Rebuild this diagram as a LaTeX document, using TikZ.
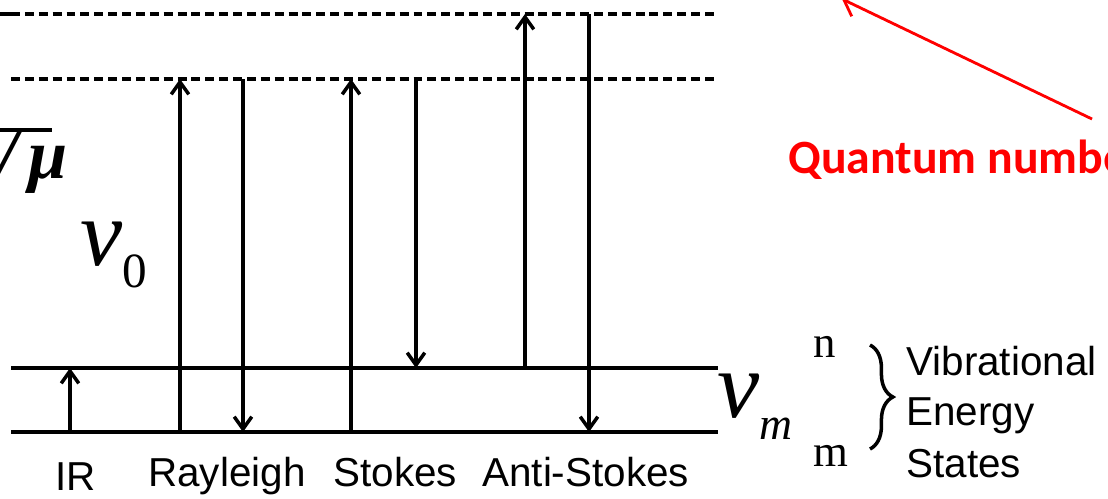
\documentclass[tikz,border=0pt]{standalone}
\usepackage{fontspec}
\setmainfont{Liberation Serif}
\newfontfamily\arial{Liberation Sans}
\newfontfamily\calibri{Carlito}
\usetikzlibrary{arrows.meta,decorations.pathreplacing}
\begin{document}
\begin{tikzpicture}[x=0.02cm,y=-0.02cm,
  lvl/.style={line width=2.1pt},
  virt/.style={line width=2.3pt,dash pattern=on 5.1pt off 2.8pt},
  trans/.style={line width=2pt,-{Straight Barb[length=7pt,width=10pt,line width=2pt]}},
  lab/.style={font=\arial\fontsize{23}{27}\selectfont,inner sep=0pt,anchor=base west},
  sym/.style={inner sep=0pt,anchor=base west},
  note/.style={red,line width=1.6pt,-{Straight Barb[length=8pt,width=13pt,line width=1.6pt]}}]
\useasboundingbox (0,0) rectangle (1108,498);
\clip (0,0) rectangle (1108,498);
\fill[white] (0,0) rectangle (1108,498);

% levels
\coordinate (frag) at (0,14);
\coordinate (v1L) at (11,14);  \coordinate (v1R) at (718,14);
\coordinate (v0L) at (11,79);  \coordinate (v0R) at (718,79);
\coordinate (nL) at (11,368);  \coordinate (nR) at (718,368);
\coordinate (mL) at (11,432);  \coordinate (mR) at (718,432);
\draw[lvl] (frag) -- (v1L);
\draw[virt] (v1L) -- (v1R);
\draw[virt] (v0L) -- (v0R);
\draw[lvl] (nL) -- (nR);
\draw[lvl] (mL) -- (mR);

% transition end points
\coordinate (irA) at (70,432);   \coordinate (irB) at (70,368);
\coordinate (raA) at (180,432);  \coordinate (raB) at (180,79);
\coordinate (rbA) at (243,79);   \coordinate (rbB) at (243,432);
\coordinate (saA) at (351,432);  \coordinate (saB) at (351,79);
\coordinate (sbA) at (416,79);   \coordinate (sbB) at (416,368);
\coordinate (aaA) at (525,368);  \coordinate (aaB) at (525,14);
\coordinate (abA) at (589,14);   \coordinate (abB) at (589,432);
\draw[trans] (irA) -- (irB);
\draw[trans] (raA) -- (raB);
\draw[trans] (rbA) -- (rbB);
\draw[trans] (saA) -- (saB);
\draw[trans] (sbA) -- (sbB);
\draw[trans] (aaA) -- (aaB);
\draw[trans] (abA) -- (abB);

% labels
\node[lab] (ir) at (55,490) {IR};
\node[lab] (ray) at (148,486) {Rayleigh};
\node[lab] (sto) at (333,486) {Stokes};
\node[lab] (ast) at (482,486) {Anti-Stokes};

% nu_0
\node[sym] (nu0) at (80,265) {{\itshape\fontsize{54}{54}\selectfont ν}\raisebox{-13pt}{\fontsize{28}{28}\selectfont 0}};
% nu_m
\node[sym] (num) at (717,417) {{\itshape\fontsize{54}{54}\selectfont ν}\raisebox{-13pt}{\itshape\fontsize{26}{26}\selectfont m}};
\node[sym] (qn) at (813,357) {\fontsize{25.5}{26}\selectfont n};
\node[sym] (qm) at (813,466) {\fontsize{25.5}{26}\selectfont m};

% brace
\coordinate (brT) at (870,345);
\coordinate (brB) at (870,449);
\draw[line width=2pt,decorate,decoration={brace,amplitude=13pt}] (brT) -- (brB);
\node[lab] (vib) at (906,375) {Vibrational};
\node[lab] (ene) at (906,425) {Energy};
\node[lab] (sta) at (906,477) {States};

% cropped sqrt(k/mu)
\coordinate (ovL) at (0,130);
\coordinate (ovR) at (52,130);
\draw[lvl] (ovL) -- (ovR);
\node[sym] (mu) at (-3,178) {\bfseries\itshape\fontsize{40}{40}\selectfont /\,μ};

% red note
\node[sym,text=red,font=\calibri\bfseries\fontsize{27.2}{30}\selectfont] (qnum) at (788,173) {Quantum number};
\coordinate (qtail) at (1092,119);
\coordinate (qtip) at (842,-1);
\draw[note] (qtail) -- (qtip);
\end{tikzpicture}
\end{document}
